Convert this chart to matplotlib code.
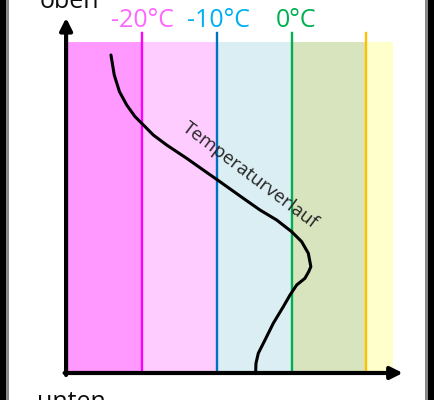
import matplotlib
matplotlib.use("Agg")
import matplotlib.pyplot as plt
from matplotlib.patches import Rectangle

# Temperature bands (°C) and their colours
band_edges = [-30, -20, -10, 0, 10, 13.6]
band_colors = ["#FF99FF", "#FFCCFF", "#DAEEF3", "#D7E4BD", "#FFFFCC"]
band_top = 100

# Isotherm lines
iso_temps = [-20, -10, 0, 10]
iso_colors = ["#FF00FF", "#0070C0", "#00B050", "#FFC000"]

# Labels above isotherms
label_temps = [-20, -9.8, 0.6]
label_texts = ["-20°C", "-10°C", "0°C"]
label_colors = ["#FF66FF", "#00B0F0", "#00B050"]

# Temperature profile (temperature °C, height in % of chart)
profile_T = [-24.19, -23.75, -23.05, -22.08, -20.97, -20.07, -18.52, -16.73,
             -14.05, -11.83, -9.82, -8.69, -6.47, -4.23, -2.00, 0.01, 1.35,
             2.24, 2.58, 2.30, 1.79, 0.68, -0.21, -1.11, -2.45, -3.56, -4.46,
             -4.77, -4.81]
profile_h = [96.07, 90.03, 84.99, 80.97, 77.46, 75.44, 71.90, 68.88,
             64.86, 61.33, 58.16, 56.34, 52.78, 49.24, 46.22, 42.69, 39.67,
             36.16, 32.11, 30.66, 28.61, 26.59, 23.56, 20.03, 15.02, 9.97, 5.95,
             2.93, 0.39]

fig = plt.figure(figsize=(4.36, 4.00), dpi=100)
ax = fig.add_axes([0, 0, 1, 1])
ax.set_xlim(-39.05, 19.34)
ax.set_ylim(-8.16, 112.69)
ax.axis("off")

for i, c in enumerate(band_colors):
    ax.fill_between([band_edges[i], band_edges[i + 1]], 0, band_top,
                    color=c, lw=0, zorder=1)

for t, c in zip(iso_temps, iso_colors):
    ax.plot([t, t], [0, 102.7], color=c, lw=1.7, zorder=2)

for t, s, c in zip(label_temps, label_texts, label_colors):
    ax.text(t, 106.4, s, color=c, fontsize=18, ha="center", va="center",
            family="Open Sans")

ax.plot(profile_T, profile_h, color="black", lw=2.2, zorder=3,
        solid_capstyle="round", solid_joinstyle="round")

ax.text(-5.6, 59.6, "Temperaturverlauf", rotation=-37, rotation_mode="anchor",
        ha="center", va="center", fontsize=13.5, color="#262626",
        family="Open Sans", zorder=4)

# axes with arrows
ax.annotate("", xy=(-30.2, 107.3), xytext=(-30.2, -0.6),
            arrowprops=dict(arrowstyle="-|>", lw=3, color="black",
                            mutation_scale=18, shrinkA=0, shrinkB=0), zorder=5)
ax.annotate("", xy=(14.9, 0), xytext=(-30.4, 0),
            arrowprops=dict(arrowstyle="-|>", lw=3, color="black",
                            mutation_scale=18, shrinkA=0, shrinkB=0), zorder=5)

ax.text(-29.8, 110.2, "oben", ha="center", va="baseline", fontsize=18,
        color="#0D0D0D", family="Open Sans")
ax.text(-29.5, -5.0, "unten", ha="center", va="top", fontsize=18,
        color="#0D0D0D", family="Open Sans")

# picture frame (left and right borders)
fig.patches.append(Rectangle((0, 0), 6, 400, transform=None,
                             facecolor="black", edgecolor="none"))
fig.patches.append(Rectangle((6, 0), 3, 400, transform=None,
                             facecolor="#888888", edgecolor="none"))
fig.patches.append(Rectangle((428, 0), 6, 400, transform=None,
                             facecolor="black", edgecolor="none"))
fig.patches.append(Rectangle((425, 0), 3, 400, transform=None,
                             facecolor="#888888", edgecolor="none"))

fig.savefig("out.png", dpi=100)
